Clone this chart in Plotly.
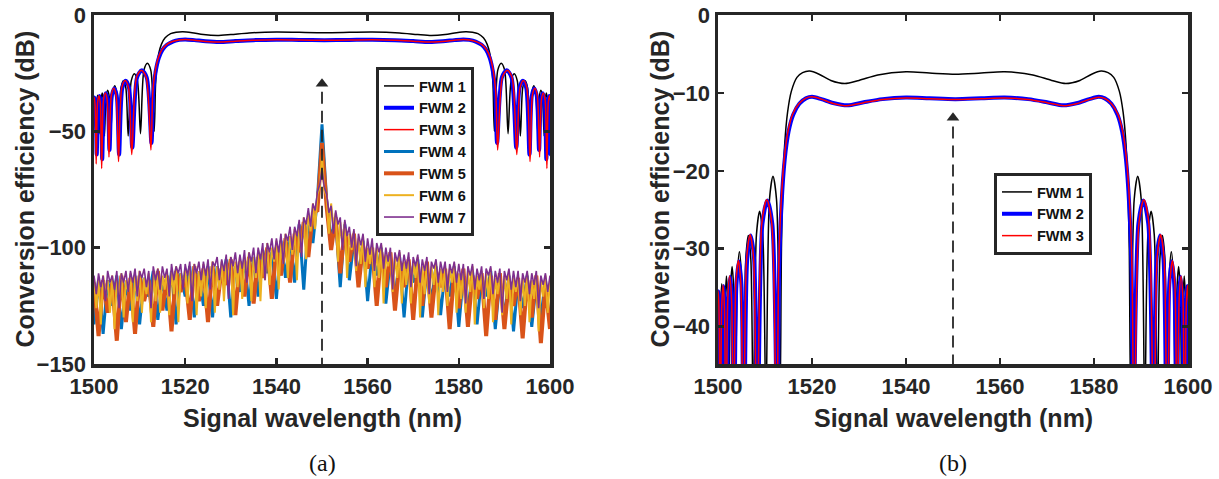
import plotly.graph_objects as go

# ---------------- data ----------------
# FWM 1-3: main conversion-efficiency curves (dB) vs signal wavelength (nm)
fwm1_wl = [1499.8, 1500.0, 1500.3, 1500.55, 1500.8, 1501.05, 1501.3, 1501.55, 1501.8, 1502.05,
           1502.3, 1502.65, 1503.0, 1503.35, 1503.7, 1504.12, 1504.55, 1504.98, 1505.4, 1505.92,
           1506.45, 1506.98, 1507.5, 1508.18, 1508.85, 1509.52, 1510.2, 1510.95, 1511.7, 1512.45,
           1513.2, 1513.5, 1513.8, 1514.2, 1514.8, 1515.6, 1516.8, 1518.0, 1519.5, 1521.5,
           1524.0, 1527.0, 1530.0, 1534.0, 1540.0, 1545.0, 1550.5, 1556.0, 1561.0, 1567.0,
           1571.0, 1574.0, 1577.0, 1579.5, 1581.5, 1583.0, 1584.2, 1585.4, 1586.2, 1586.8,
           1587.2, 1587.5, 1587.8, 1588.55, 1589.3, 1590.05, 1590.8, 1591.48, 1592.15, 1592.82,
           1593.5, 1594.02, 1594.55, 1595.08, 1595.6, 1596.02, 1596.45, 1596.88, 1597.3, 1597.65,
           1598.0, 1598.35, 1598.7, 1598.95, 1599.2, 1599.45, 1599.7, 1599.95, 1600.2]
fwm1_db = [-35.5, -38, -50, -37.5, -34.5, -37.5, -51, -36.5, -33.5, -36.5,
           -52, -35.3, -32.3, -35.3, -50, -33.4, -30.4, -33.4, -53, -31.3,
           -28.3, -31.3, -52, -28.2, -25.2, -28.2, -51, -23.7, -20.7, -23.7,
           -50, -30, -22, -16.5, -12.5, -9.8, -8.0, -7.4, -7.2, -7.6,
           -8.4, -8.8, -8.4, -7.7, -7.3, -7.45, -7.6, -7.45, -7.3, -7.7,
           -8.4, -8.8, -8.4, -7.6, -7.2, -7.4, -8.0, -9.8, -12.5, -16.5,
           -22, -30, -50, -23.7, -20.7, -23.7, -51, -28.2, -25.2, -28.2,
           -52, -31.3, -28.3, -31.3, -53, -33.4, -30.4, -33.4, -50, -35.3,
           -32.3, -35.3, -52, -36.5, -33.5, -36.5, -51, -37.5, -34.5]

fwm2_wl = [1499.8, 1500.1, 1500.35, 1500.6, 1500.9, 1501.2, 1501.5, 1501.8, 1502.2, 1502.6,
           1503.0, 1503.4, 1503.92, 1504.45, 1504.98, 1505.5, 1506.22, 1506.95, 1507.68, 1508.4,
           1509.45, 1510.5, 1511.55, 1512.6, 1513.0, 1513.5, 1514.2, 1515.0, 1516.0, 1517.3,
           1518.7, 1520.0, 1522.0, 1524.5, 1527.5, 1531.0, 1535.0, 1540.0, 1545.0, 1550.5,
           1556.0, 1561.0, 1566.0, 1570.0, 1573.5, 1576.5, 1579.0, 1581.0, 1582.3, 1583.7,
           1585.0, 1586.0, 1586.8, 1587.5, 1588.0, 1588.4, 1589.45, 1590.5, 1591.55, 1592.6,
           1593.32, 1594.05, 1594.78, 1595.5, 1596.02, 1596.55, 1597.08, 1597.6, 1598.0, 1598.4,
           1598.8, 1599.2, 1599.5, 1599.8, 1600.1, 1600.4]
fwm2_db = [-36.2, -35.5, -38.5, -60, -37.8, -34.8, -37.8, -62, -36.6, -33.6,
           -36.6, -58, -34.6, -31.6, -34.6, -60, -31.3, -28.3, -31.3, -57,
           -26.8, -23.8, -26.8, -55, -33, -24.5, -18.5, -15.0, -12.8, -11.4,
           -10.7, -10.5, -10.8, -11.3, -11.6, -11.2, -10.8, -10.6, -10.7, -10.8,
           -10.7, -10.6, -10.8, -11.2, -11.6, -11.3, -10.8, -10.5, -10.7, -11.4,
           -12.8, -15.0, -18.5, -24.5, -33, -55, -26.8, -23.8, -26.8, -57,
           -31.3, -28.3, -31.3, -60, -34.6, -31.6, -34.6, -58, -36.6, -33.6,
           -36.6, -62, -37.8, -34.8, -60, -38]

fwm3_wl = [1499.7, 1500.0, 1500.23, 1500.48, 1500.78, 1501.08, 1501.38, 1501.68, 1502.08, 1502.48,
           1502.88, 1503.28, 1503.8, 1504.33, 1504.86, 1505.38, 1506.1, 1506.83, 1507.56, 1508.28,
           1509.33, 1510.38, 1511.43, 1512.48, 1512.9, 1513.4, 1514.1, 1514.9, 1515.9, 1517.2,
           1518.6, 1520.0, 1522.0, 1524.5, 1527.5, 1531.0, 1535.0, 1540.0, 1545.0, 1550.5,
           1556.0, 1561.0, 1566.0, 1570.0, 1573.5, 1576.5, 1579.0, 1581.0, 1582.4, 1583.8,
           1585.1, 1586.1, 1586.9, 1587.6, 1588.1, 1588.52, 1589.57, 1590.62, 1591.67, 1592.72,
           1593.44, 1594.17, 1594.9, 1595.62, 1596.14, 1596.67, 1597.2, 1597.72, 1598.12, 1598.52,
           1598.92, 1599.32, 1599.62, 1599.92, 1600.22]
fwm3_db = [-36.2, -35.4, -38.4, -64, -37.7, -34.7, -37.7, -66, -36.5, -33.5,
           -36.5, -61, -34.5, -31.5, -34.5, -63, -31.2, -28.2, -31.2, -60,
           -26.7, -23.7, -26.7, -58, -33, -24.4, -18.4, -14.9, -12.7, -11.4,
           -10.7, -10.5, -10.8, -11.35, -11.65, -11.25, -10.85, -10.65, -10.75, -10.85,
           -10.75, -10.65, -10.85, -11.25, -11.65, -11.35, -10.85, -10.55, -10.75, -11.45,
           -12.75, -14.95, -18.4, -24.4, -33, -58, -26.7, -23.7, -26.7, -60,
           -31.2, -28.2, -31.2, -63, -34.5, -31.5, -34.5, -61, -36.5, -33.5,
           -36.5, -66, -37.7, -34.7, -37.7]

# FWM 4-7: weak idlers, sampled on wavelength grids (1 nm and 0.5 nm)
wl_one = list(range(1500, 1601))
wl_half = [1500 + 0.5 * k for k in range(201)]

fwm4_db = [-133, -114, -137, -114, -125, -112, -135, -115, -127, -112,
           -133, -113, -121, -110, -131, -113, -127, -110, -133, -111,
           -121, -108, -130, -111, -125, -108, -130, -108, -115, -105,
           -130, -108, -119, -105, -125, -104, -121, -101, -111, -102,
           -122, -97, -113, -96, -115, -90, -118, -88, -98, -79,
           -47, -79, -96, -88, -117, -90, -114, -97, -112, -97,
           -123, -101, -112, -100, -124, -105, -122, -104, -130, -106,
           -115, -105, -130, -109, -123, -108, -129, -110, -121, -108,
           -134, -112, -127, -110, -133, -112, -121, -110, -135, -114,
           -130, -112, -136, -114, -126, -112, -134, -115, -130, -114,
           -134]
fwm5_db = [-115, -138, -114, -128, -115, -140, -112, -132, -113, -137,
           -112, -123, -114, -134, -110, -127, -112, -136, -110, -119,
           -112, -131, -108, -123, -109, -132, -108, -125, -109, -116,
           -105, -129, -106, -121, -104, -124, -104, -113, -100, -122,
           -100, -112, -96, -115, -94, -102, -89, -104, -85, -84,
           -55, -82, -101, -87, -111, -92, -106, -94, -117, -99,
           -109, -100, -125, -102, -117, -102, -127, -106, -117, -105,
           -131, -107, -125, -106, -130, -110, -117, -109, -135, -110,
           -126, -109, -134, -112, -122, -111, -138, -112, -131, -111,
           -135, -114, -125, -113, -139, -114, -130, -112, -141, -116,
           -135]
fwm6_db = [-113, -126, -114, -133, -112, -120, -114, -128, -112, -135, -113, -122, -111, -130, -114, -119, -111, -132, -112, -123,
           -110, -128, -113, -120, -111, -132, -111, -123, -109, -128, -112, -118, -110, -129, -110, -120, -108, -132, -111, -116,
           -109, -124, -109, -118, -107, -129, -110, -121, -107, -126, -108, -115, -106, -128, -108, -118, -106, -123, -106, -114,
           -104, -129, -106, -117, -104, -122, -104, -110, -102, -123, -104, -113, -101, -123, -101, -114, -98, -116, -100, -106,
           -97, -118, -97, -107, -94, -113, -95, -103, -92, -114, -91, -102, -87, -105, -85, -93, -81, -92, -77, -74,
           -60, -75, -78, -94, -81, -91, -85, -106, -89, -99, -89, -113, -94, -101, -93, -110, -96, -107, -95, -117,
           -100, -107, -98, -117, -100, -113, -99, -124, -103, -108, -102, -119, -104, -113, -102, -124, -106, -116, -104, -124,
           -106, -113, -104, -130, -108, -120, -106, -124, -108, -116, -106, -129, -109, -119, -108, -125, -109, -115, -107, -128,
           -111, -122, -109, -128, -110, -119, -108, -133, -112, -118, -110, -126, -111, -122, -109, -132, -113, -120, -111, -129,
           -112, -122, -110, -133, -113, -119, -112, -129, -113, -125, -111, -132, -114, -122, -112, -136, -114, -121, -112, -128,
           -114]
fwm7_db = [-112, -120, -111, -117, -112, -123, -110, -115, -112, -118, -110, -126, -111, -115, -110, -119, -110, -115, -109, -121,
           -110, -113, -109, -117, -110, -126, -108, -114, -109, -118, -108, -113, -109, -121, -107, -114, -108, -111, -107, -118,
           -107, -112, -106, -123, -107, -111, -106, -114, -106, -112, -105, -118, -106, -108, -104, -114, -105, -110, -103, -122,
           -104, -108, -102, -111, -103, -109, -101, -115, -102, -106, -100, -111, -100, -105, -98, -114, -98, -102, -96, -105,
           -96, -102, -94, -107, -94, -97, -91, -101, -91, -95, -88, -104, -87, -90, -83, -91, -81, -84, -76, -73,
           -66, -74, -77, -85, -82, -94, -84, -90, -87, -101, -88, -95, -91, -100, -92, -108, -94, -99, -94, -106,
           -96, -103, -96, -110, -98, -102, -98, -109, -100, -106, -100, -118, -102, -106, -101, -110, -103, -109, -102, -117,
           -104, -108, -103, -115, -105, -110, -104, -120, -106, -109, -105, -115, -106, -111, -106, -119, -107, -111, -106, -115,
           -107, -114, -107, -124, -108, -112, -107, -118, -109, -114, -108, -122, -109, -112, -108, -120, -110, -115, -109, -128,
           -110, -114, -109, -118, -110, -117, -110, -123, -111, -115, -110, -120, -111, -116, -110, -126, -112, -116, -111, -119,
           -112]

x_ticks = [1500, 1520, 1540, 1560, 1580, 1600]
y_ticks_a = [0, -50, -100, -150]
y_ticks_b = [0, -10, -20, -30, -40]

pump_wl = 1550            # pump position marked by the dashed arrow
arrow_a = (-150, -33, -29.5)   # (tail, dash end, head) in panel (a)
arrow_b = (-44.8, -14.3, -13.2)  # same in panel (b)

# ---------------- figure ----------------
AX = '#262626'
SANS = 'Liberation Sans, Arial, sans-serif'
SERIF = 'Liberation Serif, Times New Roman, serif'
W, H = 1219, 479


def px(xp):
    return xp / W


def py(yp):
    return 1 - yp / H


main_series = [
    ('FWM 1', fwm1_wl, fwm1_db, '#000000', 1.5),
    ('FWM 2', fwm2_wl, fwm2_db, '#0000FF', 4),
    ('FWM 3', fwm3_wl, fwm3_db, '#FF0000', 1.5),
]
weak_series = [
    ('FWM 4', wl_one, fwm4_db, '#0072BD', 3),
    ('FWM 5', wl_one, fwm5_db, '#D95319', 4),
    ('FWM 6', wl_half, fwm6_db, '#EDB120', 2),
    ('FWM 7', wl_half, fwm7_db, '#7E2F8E', 1.6),
]

fig = go.Figure()
for name, x, y, c, w in main_series:
    fig.add_trace(go.Scatter(x=x, y=y, name=name, mode='lines',
                             line=dict(color=c, width=w, shape='spline', smoothing=0.8),
                             xaxis='x', yaxis='y', legend='legend', hoverinfo='skip'))
for name, x, y, c, w in weak_series:
    fig.add_trace(go.Scatter(x=x, y=y, name=name, mode='lines',
                             line=dict(color=c, width=w),
                             xaxis='x', yaxis='y', legend='legend', hoverinfo='skip'))
for name, x, y, c, w in main_series:
    fig.add_trace(go.Scatter(x=x, y=y, name=name, mode='lines',
                             line=dict(color=c, width=w, shape='spline', smoothing=0.8),
                             xaxis='x2', yaxis='y2', legend='legend2', hoverinfo='skip'))

for (xa, ya), (tail, dash_end, head) in [(('x', 'y'), arrow_a), (('x2', 'y2'), arrow_b)]:
    fig.add_trace(go.Scatter(x=[pump_wl, pump_wl], y=[dash_end, tail], mode='lines',
                             line=dict(color=AX, width=1.8, dash='12px,7px'),
                             xaxis=xa, yaxis=ya, showlegend=False, hoverinfo='skip'))
    fig.add_trace(go.Scatter(x=[pump_wl], y=[head], mode='markers',
                             marker=dict(symbol='triangle-up', size=11, color=AX),
                             xaxis=xa, yaxis=ya, showlegend=False, hoverinfo='skip'))

tick_font = dict(family=SANS, size=22, color=AX, weight='bold')
common = dict(showline=True, linewidth=3.5, linecolor=AX, mirror='ticks',
              ticks='inside', ticklen=6, tickwidth=2.5, tickcolor=AX,
              showgrid=False, zeroline=False, tickfont=tick_font, automargin=False,
              ticklabeloverflow='allow')

ydom = [py(364), py(15)]
legend_style = dict(xanchor='left', yanchor='top', bgcolor='white', bordercolor=AX, borderwidth=3,
                    font=dict(family=SANS, size=14.5, color='#111111', weight='bold'),
                    itemwidth=30, tracegroupgap=0)
fig.update_layout(
    width=W, height=H, margin=dict(l=0, r=0, t=0, b=0, autoexpand=False),
    paper_bgcolor='white', plot_bgcolor='white',
    xaxis=dict(domain=[px(94), px(550)], range=[1500, 1600], tickvals=x_ticks, anchor='y', **common),
    yaxis=dict(domain=ydom, range=[-150, 0], tickvals=y_ticks_a, anchor='x', **common),
    xaxis2=dict(domain=[px(718), px(1188)], range=[1500, 1600], tickvals=x_ticks, anchor='y2', **common),
    yaxis2=dict(domain=ydom, range=[-44.8, 0], tickvals=y_ticks_b, anchor='x2', **common),
    legend=dict(x=px(376), y=py(67), **legend_style),
    legend2=dict(x=px(994), y=py(173), **legend_style),
    showlegend=True,
)

title_font = dict(family=SANS, size=25, color=AX, weight='bold')
cap_font = dict(family=SERIF, size=24, color='#111111')
for cx, ytx in [(322, 25), (953, 660)]:
    fig.add_annotation(text='Conversion efficiency (dB)', textangle=-90, xref='paper', yref='paper',
                       x=px(ytx), y=py(189.5), xanchor='center', yanchor='middle',
                       showarrow=False, font=title_font)
    fig.add_annotation(text='Signal wavelength (nm)', xref='paper', yref='paper',
                       x=px(cx), y=py(418), xanchor='center', yanchor='middle',
                       showarrow=False, font=title_font)
fig.add_annotation(text='(a)', xref='paper', yref='paper', x=px(322), y=py(463),
                   xanchor='center', yanchor='middle', showarrow=False, font=cap_font)
fig.add_annotation(text='(b)', xref='paper', yref='paper', x=px(953), y=py(463),
                   xanchor='center', yanchor='middle', showarrow=False, font=cap_font)

# remove the default 8 px page margin so the figure fills the 1219x479 window exactly
fig.write_html('out.html', config={'displayModeBar': False, 'staticPlot': True},
               post_script="document.body.style.margin='0';document.body.style.overflow='hidden';")
